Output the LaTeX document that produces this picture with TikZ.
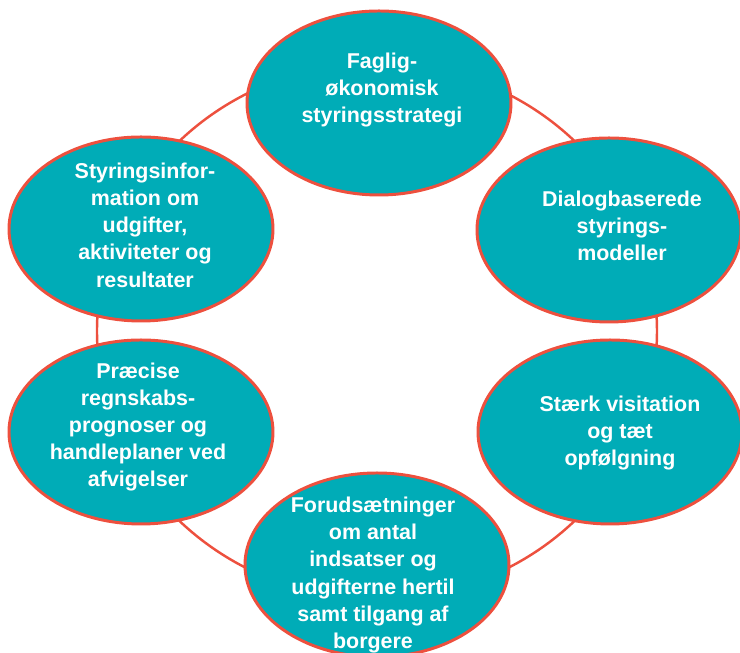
\documentclass[tikz,border=0pt]{standalone}
\usepackage{fontspec}
\setmainfont{Liberation Sans}
\usetikzlibrary{shapes.geometric, positioning, calc}
\definecolor{bubblecolor}{RGB}{0, 172, 183}
\definecolor{ringcolor}{RGB}{237, 80, 62}

\begin{document}
\begin{tikzpicture}[
    bubble/.style={ellipse, draw=ringcolor, line width=1.7pt, fill=bubblecolor,
                   minimum width=5.28cm, minimum height=3.68cm},
    bubbletext/.style={align=center, text=white, font=\bfseries\fontsize{12.2}{15.5}\selectfont},
    ring/.style={draw=ringcolor, line width=1.4pt}
]

\useasboundingbox (-7.54, 6.62) rectangle (7.26, -6.44);
\clip (-7.54, 6.62) rectangle (7.26, -6.44);

% Ring behind the bubbles
\coordinate (mid) at (0, 0);
\draw[ring] (mid) ellipse [x radius=5.6cm, y radius=5.36cm];

% Bubbles
\node[bubble] (strategi) at (0.04, 4.56) {};
\node[bubble] (dialog) at (4.64, 2.02) {};
\node[bubble] (visitation) at (4.66, -2.02) {};
\node[bubble] (forudsaet) at (0, -4.68) {};
\node[bubble] (prognoser) at (-4.72, -2.02) {};
\node[bubble] (styrinfo) at (-4.72, 2.04) {};

% Texts
\node[bubbletext] (strategi-txt) at ($(strategi) + (0.06, 0.26)$) {Faglig-\\økonomisk\\styringsstrategi};
\node[bubbletext] (dialog-txt) at ($(dialog) + (0.26, 0.08)$) {Dialogbaserede\\styrings-\\modeller};
\node[bubbletext] (visitation-txt) at ($(visitation) + (0.2, -0.02)$) {Stærk visitation\\og tæt\\opfølgning};
\node[bubbletext] (forudsaet-txt) at ($(forudsaet) + (-0.08, -0.2)$) {Forudsætninger\\om antal\\indsatser og\\udgifterne hertil\\samt tilgang af\\borgere};
\node[bubbletext] (prognoser-txt) at ($(prognoser) + (-0.06, 0.1)$) {Præcise\\regnskabs-\\prognoser og\\handleplaner ved\\afvigelser};
\node[bubbletext] (styrinfo-txt) at ($(styrinfo) + (0.08, 0.08)$) {Styringsinfor-\\mation om\\udgifter,\\aktiviteter og\\resultater};

\end{tikzpicture}
\end{document}
